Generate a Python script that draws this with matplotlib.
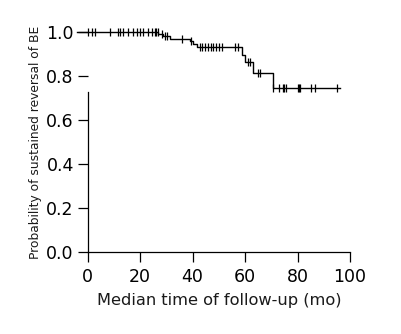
import numpy as np
import matplotlib.pyplot as plt

# Kaplan-Meier steps (months, survival)
step_times = [-4, 26.9, 28.6, 31.4, 39.0, 40.1, 41.8, 58.8, 60.0, 63.0, 70.6, 96.2]
step_surv = [1.0, 0.991, 0.982, 0.966, 0.958, 0.945, 0.930, 0.895, 0.860, 0.810, 0.745, 0.745]

# censored observations (months)
censored = [0.2, 1.5, 2.8, 8.5, 11.6, 12.3, 13.5, 15.4, 17.3, 18.8, 19.9, 21.1,
            23.0, 24.5, 25.7, 26.2, 26.7, 28.2, 29.5, 30.2, 36.1, 39.4, 42.8,
            43.7, 44.9, 46.0, 47.0, 47.9, 48.9, 50.0, 51.2, 56.2, 57.2, 61.1,
            61.9, 64.9, 65.7, 70.8, 73.1, 74.5, 75.0, 75.6, 80.2, 80.6, 81.1,
            85.1, 86.7, 94.9]

xticks = [0, 20, 40, 60, 80, 100]
yticks = [0.0, 0.2, 0.4, 0.6, 0.8, 1.0]

fig = plt.figure(figsize=(4.01, 3.34), dpi=100)
ax = fig.add_axes([0.2187, 0.2446, 0.654, 0.661])

ax.step(step_times, step_surv, where='post', color='black', lw=1.0, clip_on=False)

# surviving fraction at each censored time
idx = np.searchsorted(step_times, censored, side='right') - 1
cens_surv = np.array(step_surv)[idx]
ax.plot(censored, cens_surv, ls='none', marker='|', ms=5.2, mew=0.9, color='black', clip_on=False)

ax.set_xlim(0, 100)
ax.set_ylim(0, 1)
ax.set_xticks(xticks)
ax.set_yticks(yticks)
ax.set_yticklabels([f"{v:.1f}" for v in yticks])

for s in ['top', 'right']:
    ax.spines[s].set_visible(False)
ax.spines['left'].set_bounds(0, 0.725)
ax.spines['left'].set_linewidth(0.9)
ax.spines['bottom'].set_linewidth(0.9)
ax.tick_params(axis='both', direction='out', length=7, width=0.9, labelsize=12.5, colors='black')
ax.tick_params(axis='x', pad=4)
ax.tick_params(axis='y', pad=3)

ax.set_xlabel('Median time of follow-up (mo)', fontsize=11.7, labelpad=5, color='#1a1a1a')
ax.set_ylabel('Probability of sustained reversal of BE', fontsize=8.8, labelpad=3, color='#1a1a1a')

fig.savefig('out.png', dpi=100)
